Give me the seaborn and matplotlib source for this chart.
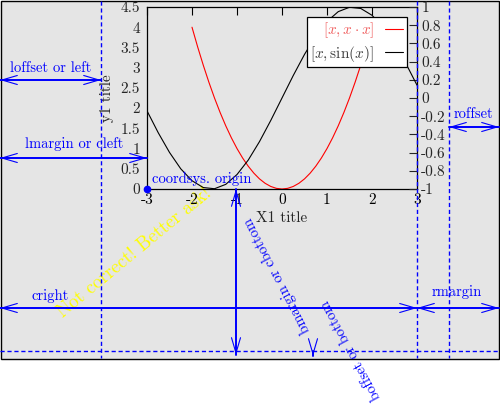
import matplotlib
matplotlib.use("Agg")
import matplotlib.pyplot as plt
import seaborn as sns
from matplotlib.patches import Rectangle
from matplotlib.lines import Line2D

# curve samples
x_sq = [-2, -1.875, -1.75, -1.625, -1.5, -1.375, -1.25, -1.125, -1,
        -0.875, -0.75, -0.625, -0.5, -0.375, -0.25, -0.125, 0,
        0.125, 0.25, 0.375, 0.5, 0.625, 0.75, 0.875, 1,
        1.125, 1.25, 1.375, 1.5, 1.625, 1.75, 1.875, 2]
y_sq = [4, 3.516, 3.063, 2.641, 2.25, 1.891, 1.563, 1.266, 1,
        0.766, 0.563, 0.391, 0.25, 0.141, 0.063, 0.016, 0,
        0.016, 0.063, 0.141, 0.25, 0.391, 0.563, 0.766, 1,
        1.266, 1.563, 1.891, 2.25, 2.641, 3.063, 3.516, 4]
x_sin = [-3, -2.75, -2.5, -2.25, -2, -1.75, -1.5, -1.25, -1, -0.75, -0.5, -0.25, 0,
         0.25, 0.5, 0.75, 1, 1.25, 1.5, 1.75, 2, 2.25, 2.5, 2.75, 3]
y_sin = [-0.141, -0.382, -0.598, -0.778, -0.909, -0.984, -0.997, -0.949, -0.841,
         -0.682, -0.479, -0.247, 0, 0.247, 0.479, 0.682, 0.841, 0.949, 0.997,
         0.984, 0.909, 0.778, 0.598, 0.382, 0.141]

x_ticks = [-3, -2, -1, 0, 1, 2, 3]
y1_ticks = [0, 0.5, 1, 1.5, 2, 2.5, 3, 3.5, 4, 4.5]
y2_ticks = [-1, -0.8, -0.6, -0.4, -0.2, 0, 0.2, 0.4, 0.6, 0.8, 1]
legend_labels = [r"$[x, x \cdot x]$", r"$[x, \sin(x)]$"]

sns.set_style("white")
plt.rcParams["font.family"] = ["cmr10", "DejaVu Serif"]
plt.rcParams["mathtext.fontset"] = "cm"
plt.rcParams["axes.unicode_minus"] = False
plt.rcParams["axes.formatter.use_mathtext"] = True

W, H = 500, 407
fig = plt.figure(figsize=(5, 4.07), dpi=100)

# background layer in pixel coordinates
bg = fig.add_axes([0, 0, 1, 1], zorder=0)
bg.set_xlim(0, W)
bg.set_ylim(H, 0)
bg.axis("off")
bg.add_patch(Rectangle((0.5, 0.5), 498.5, 358, facecolor="#e5e5e5",
                       edgecolor="black", lw=1))
bg.text(134, 253, "Not correct! Better ask!", color="yellow", fontsize=13.5,
        rotation=39.5, ha="center", va="center", rotation_mode="anchor")

# main plot
ax = fig.add_axes([147 / W, 1 - 189 / H, 270 / W, 182 / H], zorder=1)
ax.patch.set_visible(False)
sns.lineplot(x=x_sq, y=y_sq, ax=ax, color="red", lw=0.8)
ax.set_xlim(-3, 3)
ax.set_ylim(0, 4.5)
ax.set_xticks(x_ticks)
ax.set_xticklabels([f"{v:g}" for v in x_ticks])
ax.set_yticks(y1_ticks)
ax.set_yticklabels([f"{v:g}" for v in y1_ticks])
ax.tick_params(axis="x", direction="in", length=6, width=0.8, top=True,
               labelsize=11, pad=3, colors="black")
ax.tick_params(axis="y", length=0, labelsize=11, pad=5)
ax.set_xlabel("X1 title", fontsize=11, labelpad=3)
ax.set_ylabel("y1 title", fontsize=11, labelpad=5)
for s in ax.spines.values():
    s.set_color("black")
    s.set_linewidth(0.9)

ax2 = ax.twinx()
sns.lineplot(x=x_sin, y=y_sin, ax=ax2, color="black", lw=0.8)
ax2.set_ylim(-1, 1)
ax2.set_yticks(y2_ticks)
ax2.set_yticklabels([f"{v:g}" for v in y2_ticks])
ax2.tick_params(axis="y", direction="in", length=6, width=0.8, labelsize=11, pad=3)
for s in ax2.spines.values():
    s.set_visible(False)

handles = [Line2D([], [], color="red", lw=0.8), Line2D([], [], color="black", lw=0.8)]
leg = ax2.legend(handles, legend_labels, loc="upper right",
                 bbox_to_anchor=((407 - 147) / 270, (189 - 17) / 182),
                 borderaxespad=0, markerfirst=False, fancybox=False,
                 framealpha=1, edgecolor="black", fontsize=11,
                 handlelength=1.2, handletextpad=0.7, labelspacing=0.2,
                 borderpad=0.25)
leg.get_frame().set_linewidth(0.9)
leg.get_texts()[0].set_color("#f06060")
leg.get_texts()[1].set_color("#404040")

# annotation layer
top = fig.add_axes([0, 0, 1, 1], zorder=5)
top.patch.set_visible(False)
top.set_xlim(0, W)
top.set_ylim(H, 0)
top.axis("off")

blue = "blue"
dash = dict(color=blue, lw=1, linestyle=(0, (3, 2)))
for xv in [101, 417, 449]:
    top.plot([xv, xv], [0.5, 358], **dash)
top.plot([0, 499], [351, 351], **dash)


def darrow(p0, p1, style="<->"):
    top.annotate("", xy=p1, xytext=p0,
                 arrowprops=dict(arrowstyle=style + ",head_length=0.85,head_width=0.25",
                                 color=blue, lw=0.8, shrinkA=0, shrinkB=0,
                                 mutation_scale=13))
    top.plot([p0[0], p1[0]], [p0[1], p1[1]], color=blue, lw=1.4)


darrow((0, 80), (101, 80))
darrow((0, 158), (147, 158))
darrow((449, 127), (499, 127))
darrow((0, 308), (417, 308))
darrow((417, 308), (499, 308))
darrow((236, 189), (236, 355))
darrow((313, 351), (313, 356), style="->")

lab = dict(color=blue, fontsize=10.5, ha="center", va="baseline")
top.text(51, 72, "loffset or left", **lab)
top.text(74, 148, "lmargin or cleft", **lab)
top.text(474, 118, "roffset", **lab)
top.text(50, 300, "cright", **lab)
top.text(457, 296, "rmargin", **lab)
top.text(152, 183, "coordsys. origin", color=blue, fontsize=10.5, ha="left",
         va="baseline")
top.plot([147], [189], "o", color=blue, ms=4.5)
top.text(277, 275, "bmargin or cbottom", color=blue, fontsize=10.5, rotation=117.5,
         ha="center", va="center", rotation_mode="anchor")
top.text(351, 350, "boffset or bottom", color=blue, fontsize=10.5, rotation=118.5,
         ha="center", va="center", rotation_mode="anchor")

plt.savefig("out.png", dpi=100)
